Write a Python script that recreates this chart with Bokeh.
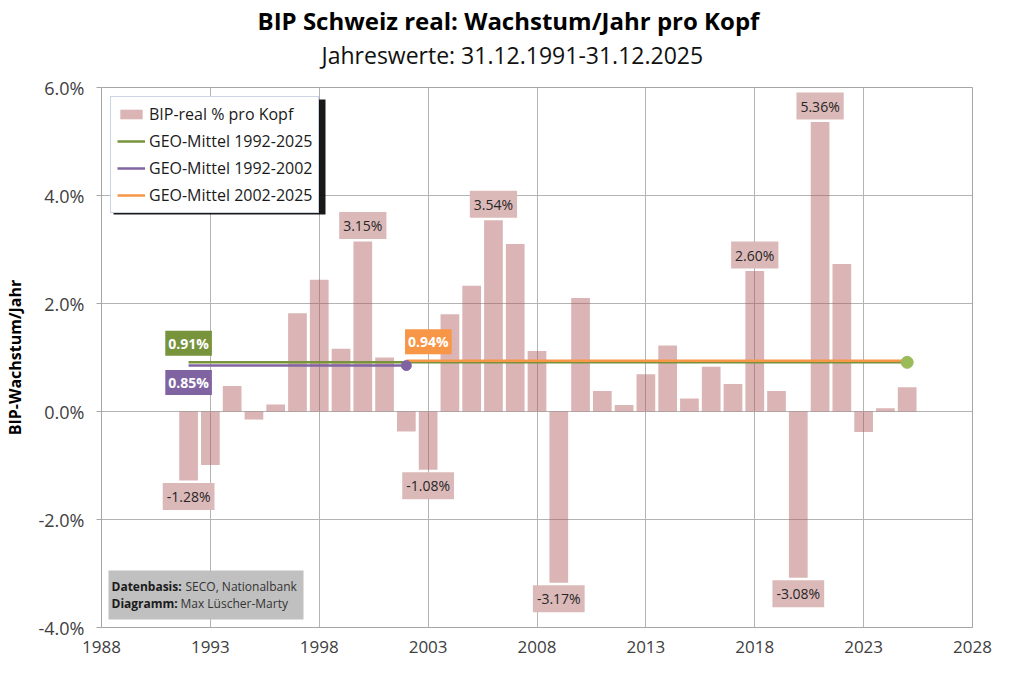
from bokeh.plotting import figure
from bokeh.models import (Range1d, FixedTicker, PrintfTickFormatter, Label, Legend,
                          LegendItem, BoxAnnotation, Title)
from bokeh.embed import file_html
from bokeh.resources import INLINE

FONT = "Open Sans"

# ---- data ----
years = list(range(1992, 2026))
growth = [-1.28, -0.99, 0.47, -0.15, 0.13, 1.82, 2.44, 1.16, 3.15, 1.00,
          -0.37, -1.08, 1.80, 2.33, 3.54, 3.10, 1.12, -3.17, 2.10, 0.38,
          0.12, 0.69, 1.22, 0.24, 0.83, 0.51, 2.60, 0.38, -3.08, 5.36,
          2.73, -0.38, 0.06, 0.45]
labeled_years = [1992, 2000, 2003, 2006, 2009, 2018, 2020, 2021]

mean_names = ["GEO-Mittel 1992-2025", "GEO-Mittel 1992-2002", "GEO-Mittel 2002-2025"]
mean_values = [0.91, 0.85, 0.94]
mean_start = [1992, 1992, 2002]
mean_end = [2025, 2002, 2025]
mean_colors = ["#77933c", "#8064a2", "#f79646"]

x_ticks = [1988, 1993, 1998, 2003, 2008, 2013, 2018, 2023, 2028]
y_ticks = [-4, -2, 0, 2, 4, 6]

bar_name = "BIP-real % pro Kopf"
title_text = "BIP Schweiz real: Wachstum/Jahr pro Kopf"
subtitle_text = "Jahreswerte: 31.12.1991-31.12.2025"
y_label = "BIP-Wachstum/Jahr"

# ---- figure ----
p = figure(width=1008, height=666, title=None,
           x_range=Range1d(1988, 2028), y_range=Range1d(-4, 6),
           output_backend="svg", toolbar_location=None,
           min_border_left=92, min_border_right=36,
           min_border_top=87, min_border_bottom=39,
           background_fill_color="white", border_fill_color="white")

# spacer between frame and subtitle, then subtitle, then title
p.add_layout(Title(text=" ", text_font_size="1px", standoff=14), "above")
p.add_layout(Title(text=subtitle_text, align="left", offset=220, standoff=0,
                   text_font=FONT, text_font_size="23px",
                   text_font_style="normal", text_color="#111111"), "above")
p.add_layout(Title(text=title_text, align="left", offset=156, standoff=0,
                   text_font=FONT, text_font_size="24px",
                   text_font_style="bold", text_color="#000000"), "above")

p.outline_line_color = "#a6a6a6"
p.xaxis.ticker = FixedTicker(ticks=x_ticks)
p.yaxis.ticker = FixedTicker(ticks=y_ticks)
p.xgrid.ticker = FixedTicker(ticks=x_ticks)
p.ygrid.ticker = FixedTicker(ticks=y_ticks)
for g in (p.xgrid, p.ygrid):
    g.grid_line_color = "#b3b3b3"
    g.grid_line_width = 1

p.yaxis.formatter = PrintfTickFormatter(format="%.1f%%")
for ax in (p.xaxis, p.yaxis):
    ax.axis_line_color = "#a6a6a6"
    ax.major_tick_line_color = "#a6a6a6"
    ax.minor_tick_line_color = None
    ax.major_label_text_font = FONT
    ax.major_label_text_color = "#404040"
p.xaxis.major_label_text_font_size = "17px"
p.yaxis.major_label_text_font_size = "18px"
p.xaxis.major_tick_out = 0
p.xaxis.major_tick_in = 0
p.xaxis.major_label_standoff = 13
p.yaxis.major_tick_out = 5
p.yaxis.major_tick_in = 0
p.yaxis.major_label_standoff = 12
p.yaxis.axis_label = y_label
p.yaxis.axis_label_text_font = FONT
p.yaxis.axis_label_text_font_size = "16px"
p.yaxis.axis_label_text_font_style = "bold"
p.yaxis.axis_label_text_color = "#000000"
p.yaxis.axis_label_standoff = 10

# ---- bars ----
bars = p.vbar(x=years, top=growth, bottom=0, width=0.86,
              fill_color="#b05a5a", fill_alpha=0.45, line_color=None)

# ---- mean lines ----
mean_renderers = []
for name, m, s, e, c in zip(mean_names, mean_values, mean_start, mean_end, mean_colors):
    r = p.line(x=[s, e], y=[m, m], line_color=c, line_width=2.5)
    mean_renderers.append(r)

# end markers
p.scatter(x=[mean_end[1]], y=[mean_values[1]], size=10,
          fill_color=mean_colors[1], line_color=mean_colors[1])
p.scatter(x=[mean_end[0]], y=[mean_values[0]], size=12,
          fill_color="#9bbb59", line_color="#9bbb59")

# ---- value labels ----
for yr in labeled_years:
    v = growth[years.index(yr)]
    p.add_layout(Label(x=yr, y=v, y_offset=16 if v > 0 else -16,
                       text=f"{v:.2f}%", text_align="center", text_baseline="middle",
                       text_font=FONT, text_font_size="14px", text_color="#262626",
                       background_fill_color="#dcb9b9", padding=4))

# mean labels
mean_label_offsets = [(0, 19), (0, -17), (22, 19)]
for m, s, c, (dx, dy) in zip(mean_values, mean_start, mean_colors, mean_label_offsets):
    p.add_layout(Label(x=s, y=m, x_offset=dx, y_offset=dy,
                       text=f"{m:.2f}%", text_align="center", text_baseline="middle",
                       text_font=FONT, text_font_size="14px", text_font_style="bold",
                       text_color="white", background_fill_color=c, padding=3))

# ---- source box ----
p.add_layout(BoxAnnotation(left=7, right=202, bottom=8, top=57,
                           left_units="screen", right_units="screen",
                           bottom_units="screen", top_units="screen",
                           fill_color="#c0c0c0", fill_alpha=1.0, line_color=None))
src_rows = [("Datenbasis:", "SECO, Nationalbank", 41, 84),
            ("Diagramm:", "Max Lüscher-Marty", 24, 79)]
for b, t, yy, xx in src_rows:
    p.add_layout(Label(x=10, y=yy, x_units="screen", y_units="screen", text=b,
                       text_font=FONT, text_font_size="12px", text_font_style="bold",
                       text_color="#1a1a1a", text_baseline="middle"))
    p.add_layout(Label(x=xx, y=yy, x_units="screen", y_units="screen", text=t,
                       text_font=FONT, text_font_size="12px",
                       text_color="#333333", text_baseline="middle"))

# ---- legend with shadow ----
p.add_layout(BoxAnnotation(left=12, right=224, bottom=413, top=528,
                           left_units="screen", right_units="screen",
                           bottom_units="screen", top_units="screen",
                           fill_color="black", fill_alpha=0.9, line_color=None))
items = [LegendItem(label=bar_name, renderers=[bars])]
for name, r in zip(mean_names, mean_renderers):
    items.append(LegendItem(label=name, renderers=[r]))
legend = Legend(items=items, location="top_left", margin=9,
                padding=6, spacing=5, glyph_width=28, glyph_height=12,
                label_height=21, label_standoff=4,
                label_text_font=FONT, label_text_font_size="16px",
                label_text_color="#1a1a1a",
                border_line_color="#9aabc8", border_line_width=1,
                background_fill_color="white", background_fill_alpha=1.0)
p.add_layout(legend)

open("out.html", "w").write(file_html(p, INLINE))
